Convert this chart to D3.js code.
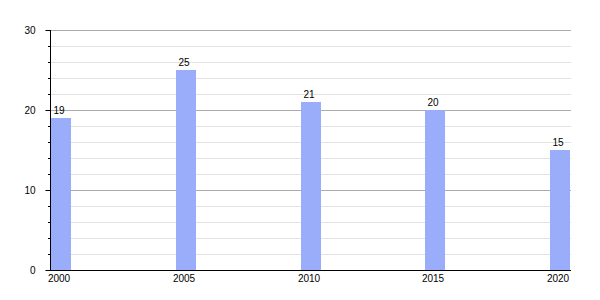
<!DOCTYPE html>
<html>
<head>
<meta charset="utf-8">
<script src="https://cdn.jsdelivr.net/npm/d3@7"></script>
<style>
  body { margin: 0; background: #fff; }
  text { font-family: "Liberation Sans", Arial, sans-serif; font-size: 10px; fill: #000; }
</style>
</head>
<body>
<div id="chart"></div>
<script>
const years = [2000, 2005, 2010, 2015, 2020]
const values = [19, 25, 21, 20, 15]
const yTicks = [0, 10, 20, 30]

function DrawChart() {
    var width = 600, height = 300;
    var left = 50, right = 571, top = 30, bottom = 270;
    var barWidth = 20;

    var svg = d3.select("#chart").append("svg")
        .attr("width", width)
        .attr("height", height);

    var xScale = d3.scaleLinear().domain([2000, 2020]).range([left + 1, right - 1 - barWidth]);
    var yScale = d3.scaleLinear().domain([0, 30]).range([bottom, top]);

    // minor grid every 2
    svg.append("g").selectAll("line")
        .data(d3.range(2, 30, 2).filter(v => v % 10 != 0))
        .enter().append("line")
        .attr("x1", left).attr("x2", right)
        .attr("y1", d => yScale(d) + 0.5).attr("y2", d => yScale(d) + 0.5)
        .attr("stroke", "#e2e2e2");

    // major grid
    svg.append("g").selectAll("line")
        .data(yTicks.filter(v => v > 0))
        .enter().append("line")
        .attr("x1", left).attr("x2", right)
        .attr("y1", d => yScale(d) + 0.5).attr("y2", d => yScale(d) + 0.5)
        .attr("stroke", "#ababab");

    // bars
    svg.append("g").selectAll("rect")
        .data(values)
        .enter().append("rect")
        .attr("x", (d, i) => Math.round(xScale(years[i])))
        .attr("y", d => yScale(d))
        .attr("width", barWidth)
        .attr("height", d => bottom - yScale(d))
        .attr("fill", "#9aadfb");

    // value labels
    svg.append("g").selectAll("text")
        .data(values)
        .enter().append("text")
        .attr("x", (d, i) => Math.round(xScale(years[i])) + barWidth / 2 - 2)
        .attr("y", d => yScale(d) - 4)
        .attr("text-anchor", "middle")
        .text(d => d);

    // y axis
    var yAxis = svg.append("g")
        .attr("transform", "translate(" + (left + 0.5) + ",0)")
        .call(d3.axisLeft(yScale).tickValues(yTicks).tickSize(5).tickPadding(10).tickFormat(d3.format("d")));
    yAxis.select(".domain").attr("d", "M0," + top + "V" + bottom);
    yAxis.selectAll("text").style("font-size", "10px").attr("font-family", null);
    yAxis.selectAll(".tick line").attr("stroke", "#000");
    yAxis.selectAll(".tick").attr("transform", d => "translate(0," + (yScale(d) + 0.5) + ")");

    // minor ticks on y axis
    svg.append("g").selectAll("line")
        .data(d3.range(2, 30, 2).filter(v => v % 10 != 0))
        .enter().append("line")
        .attr("x1", left - 2).attr("x2", left)
        .attr("y1", d => yScale(d) + 0.5).attr("y2", d => yScale(d) + 0.5)
        .attr("stroke", "#000");

    // x axis
    svg.append("line")
        .attr("x1", left).attr("x2", right)
        .attr("y1", bottom + 0.5).attr("y2", bottom + 0.5)
        .attr("stroke", "#000");

    svg.append("g").selectAll("text")
        .data(years)
        .enter().append("text")
        .attr("x", d => Math.round(xScale(d)) + barWidth / 2 - 2)
        .attr("y", bottom + 12)
        .attr("text-anchor", "middle")
        .text(d => d);
}

DrawChart();
</script>
</body>
</html>
